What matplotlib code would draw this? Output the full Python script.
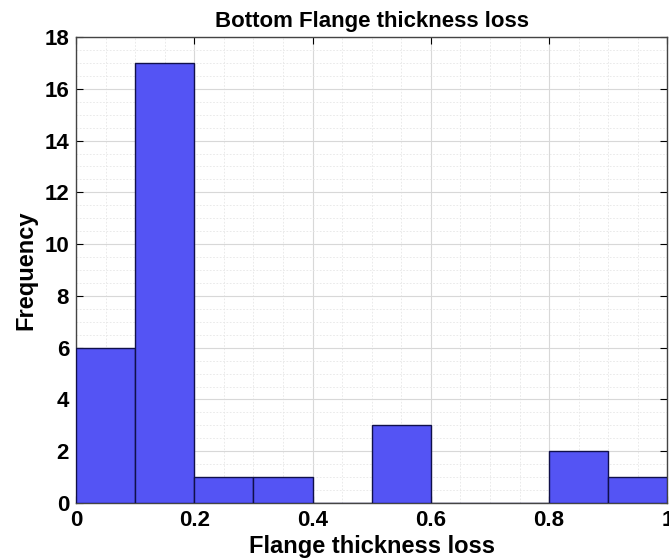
import matplotlib
matplotlib.use('Agg')
import matplotlib.pyplot as plt
from matplotlib.ticker import MultipleLocator
import numpy as np

# histogram bins and counts
binEdges = [0.0, 0.1, 0.2, 0.3, 0.4, 0.5, 0.6, 0.7, 0.8, 0.9, 1.0]
counts = [6, 17, 1, 1, 0, 3, 0, 0, 2, 1]
xTicks = [0, 0.2, 0.4, 0.6, 0.8, 1]
xTickLabels = ['0', '0.2', '0.4', '0.6', '0.8', '1']
yTicks = [0, 2, 4, 6, 8, 10, 12, 14, 16, 18]

plt.rcParams['font.family'] = ['Liberation Sans', 'DejaVu Sans']
plt.rcParams['font.weight'] = 'bold'

fig = plt.figure(figsize=(6.69, 5.60), dpi=100)
ax = fig.add_axes([0.1136, 0.1018, 0.884, 0.832])

widths = np.diff(binEdges)
ax.bar(binEdges[:-1], counts, width=widths, align='edge',
       color='#5454f4', edgecolor='#10104a', linewidth=1.0, zorder=3)

ax.set_xlim(0, 1)
ax.set_ylim(0, 18)
ax.set_xticks(xTicks)
ax.set_xticklabels(xTickLabels)
ax.set_yticks(yTicks)
ax.xaxis.set_minor_locator(MultipleLocator(0.05))
ax.yaxis.set_minor_locator(MultipleLocator(0.5))

ax.grid(which='major', color='#d8d8d8', linewidth=0.8, zorder=0)
ax.grid(which='minor', color='#e6e6e6', linewidth=0.6, linestyle=(0, (2, 2)), zorder=0)
ax.set_axisbelow(True)

ax.tick_params(which='both', direction='in', top=True, right=True)
ax.tick_params(which='major', length=5, labelsize=16, pad=5)
ax.tick_params(which='minor', length=0)
for sp in ax.spines.values():
    sp.set_color('#444444')
    sp.set_linewidth(1.0)

ax.set_title('Bottom Flange thickness loss', fontsize=16, fontweight='bold', pad=7)
ax.set_xlabel('Flange thickness loss', fontsize=17, fontweight='bold', labelpad=3)
ax.set_ylabel('Frequency', fontsize=17, fontweight='bold', labelpad=5)

plt.savefig('out.png', dpi=100)
